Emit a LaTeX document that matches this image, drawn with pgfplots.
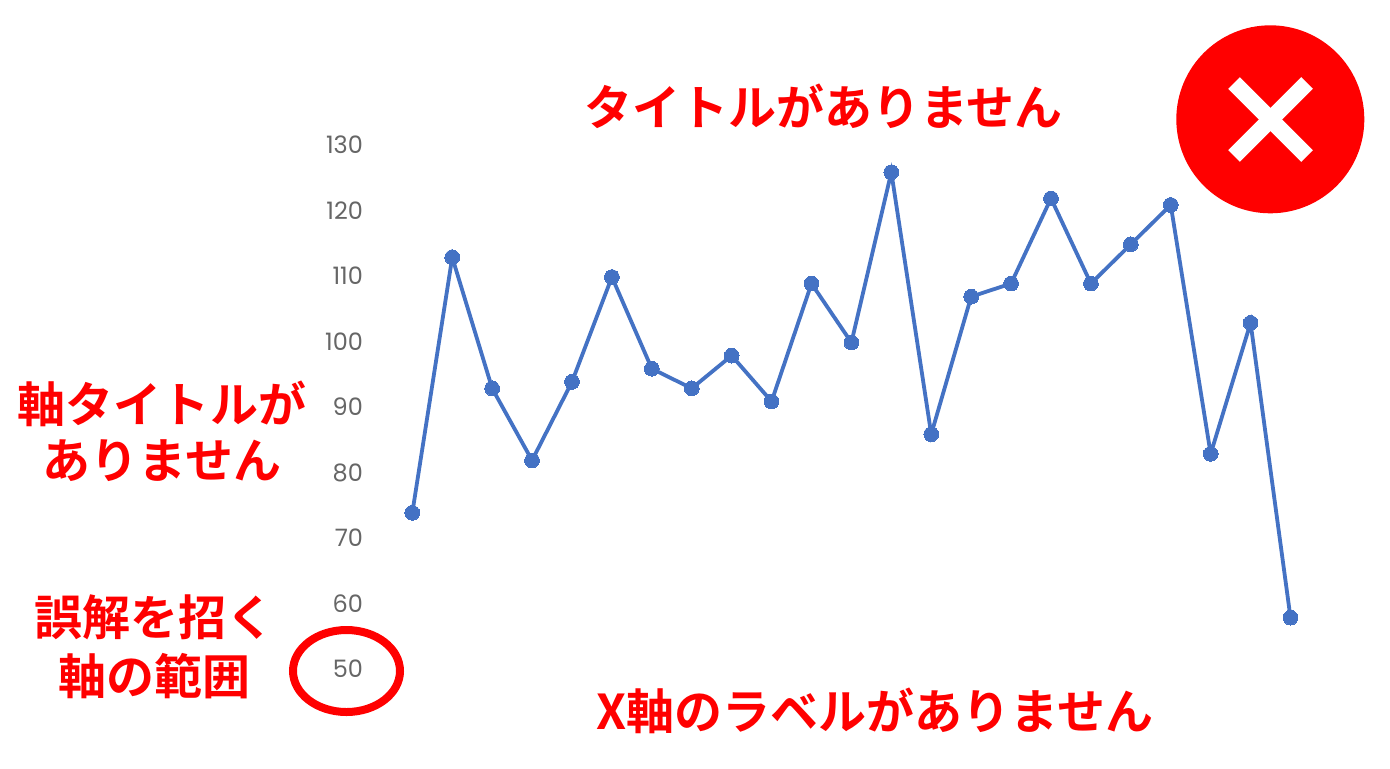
\documentclass[border=0pt]{standalone}
\usepackage{fontspec}
\usepackage{pgfplots}
\pgfplotsset{compat=1.18}
\setmainfont{Poppins}
\newfontfamily\cjk{Noto Sans CJK JP}[BoldFont={Noto Sans CJK JP Bold}]
\definecolor{linecol}{HTML}{4472C4}
\definecolor{ticktxt}{HTML}{666666}
\definecolor{warn}{HTML}{FF0000}
\tikzset{warnlabel/.style={text=warn,font=\cjk\bfseries\fontsize{24}{28}\selectfont,align=center,inner sep=0pt}}

\begin{document}
\begin{tikzpicture}[x=0.5pt,y=-0.5pt]
\fill[white] (0,0) rectangle (1390,768);
% 1 px of the reference is 0.5pt here
\begin{axis}[
    at={(186.2pt,-335pt)}, anchor=south west,
    scale only axis,
    width=479pt, height=262pt,
    xmin=-1, xmax=23,
    ymin=50, ymax=130,
    axis line style={draw=none},
    major tick length=0pt,
    xtick=\empty,
    ytick={50,60,70,80,90,100,110,120,130},
    yticklabel style={text=ticktxt,font=\fontsize{12}{14}\selectfont,anchor=east,xshift=-1.2pt,yshift=0.5pt},
    /pgf/number format/assume math mode=true,
    clip=false,
]
\addplot[color=linecol,line width=1.9pt,mark=*,mark size=3.7pt,mark options={fill=linecol,draw=linecol,line width=0pt}]
    coordinates {
    (0,74)(1,113)(2,93)(3,82)(4,94)(5,110)(6,96)(7,93)(8,98)(9,91)(10,109)(11,100)
    (12,126)(13,86)(14,107)(15,109)(16,122)(17,109)(18,115)(19,121)(20,83)(21,103)(22,58)
    };
\end{axis}
\node[warnlabel] at (823.5,106.5) {タイトルがありません};
\node[warnlabel] at (875,711) {X軸のラベルがありません};
\node[warnlabel] at (162,431) {軸タイトルが\\ありません};
\node[warnlabel] at (154.5,646.5) {誤解を招く\\[1.5pt]軸の範囲};
\draw[warn,line width=4pt] (346.5,671) ellipse (53.5 and 41);
\fill[warn] (1270.3,119.3) circle (94);
\draw[white,line width=8.25pt] (1234,83) -- (1307,156);
\draw[white,line width=8.25pt] (1307,83) -- (1234,156);
\end{tikzpicture}
\end{document}
